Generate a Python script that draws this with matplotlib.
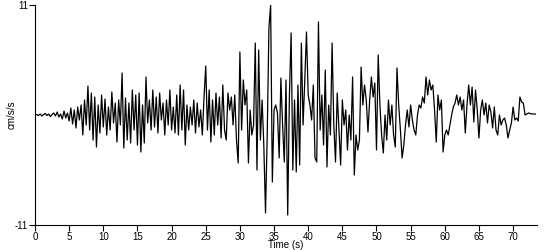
import numpy as np
import matplotlib

matplotlib.use("Agg")
import matplotlib.pyplot as plt

# acceleration record, one row per second (dt = 0.25 s)
dt = 0.25
accel = [
    0.0, 0.05, -0.05, 0.1,
    -0.1, 0.05, 0.15, -0.05,
    0.1, -0.15, 0.05, 0.2,
    -0.1, 0.3, -0.2, 0.1,
    -0.4, 0.4, -0.3, 0.2,
    -0.6, 0.7, -0.9, 0.5,
    -1.3, 0.8, -0.5, 1.0,
    -2.0, 1.5, -1.0, 2.9,
    -1.5, 2.2, -2.5, 1.8,
    -3.2, 1.0, -1.8, 2.0,
    -1.2, 1.6, -2.0, 0.8,
    -1.5, 2.3, -0.8, 1.2,
    -2.7, 1.5, -1.0, 4.2,
    -3.3, 1.7, -2.5, 1.2,
    -2.8, 2.5, -1.5, 2.0,
    -3.0, 2.2, -3.7, 1.0,
    -2.8, 3.8, -0.8, 1.5,
    -1.5, 2.5, -1.2, 1.8,
    -1.8, 2.2, -0.5, 1.2,
    -2.0, 1.5, -1.0, 2.5,
    -1.5, 0.8, -1.8, 2.0,
    -2.0, 3.0, -1.5, 2.5,
    -3.0, 1.0, -1.5, 0.8,
    -1.0, 1.5, -1.8, 1.2,
    -1.2, 0.5, -2.0, 1.8,
    4.9, -1.5, 2.5, -2.7,
    1.5, -2.0, 2.2, -1.0,
    1.8, -2.3, 3.0, -1.5,
    -2.5, 2.2, 0.5, 1.8,
    -1.0, 2.0, -2.5, -4.8,
    6.3, -1.5, 3.5, 1.0,
    2.5, -4.8, 0.5, -2.0,
    -1.0, 7.2, -5.5, 6.5,
    -2.5, 1.5, -3.0, -9.8,
    -2.0, 8.7, 11.0, -6.7,
    0.5, 1.0, 0.2, -4.3,
    3.7, -1.0, -4.7, 3.5,
    -10.0, 2.0, 8.2, -5.5,
    1.5, -5.7, 3.0, -5.0,
    7.2, -1.0, 3.5, 8.3,
    2.0, 1.0, -0.5, 3.0,
    -4.3, -4.7, 9.3, -1.5,
    2.0, -3.0, 4.5, -5.2,
    1.0, -2.0, 7.2, -1.0,
    -4.7, 2.2, -1.5, -5.0,
    1.5, -1.0, 0.5, -3.5,
    0.0, -2.5, 3.8, -6.0,
    -2.0, -3.5, -2.5, 4.8,
    1.0, 3.0, 1.5, -1.7,
    1.5, 3.8, 1.8, 3.2,
    -3.5, 6.0, 1.0, -2.0,
    -3.8, 0.0, -2.5, 1.5,
    -1.0, 1.0, -2.0, -3.2,
    4.7, 1.0, -1.5, -4.3,
    -3.0, -1.0, 0.5, -1.2,
    1.0, -0.5, -1.5, -2.0,
    0.0, 1.0, 0.7, 1.8,
    1.2, 3.8, 2.0, 3.5,
    2.5, 3.0, 0.5, -2.7,
    2.0, 0.5, 1.5, -3.7,
    -2.0, -1.5, -2.0, -1.0,
    0.0, 0.8, 1.2, 2.0,
    1.0, 1.8, 0.5, 1.5,
    -1.8, 1.0, 3.0, 1.0,
    2.8, -0.7, 2.5, 0.5,
    -2.3, 0.5, 1.5, 0.0,
    1.2, -0.8, 1.0, 0.3,
    -1.3, 0.8, -1.5, -2.0,
    0.0, -1.0, -0.5, -0.3,
    -1.0, -2.3, -1.5, -0.8,
    0.8, -0.5, -0.3, -0.6,
    1.8, 1.3, 1.2, 0.0,
    0.1, 0.2, 0.15, 0.1,
    0.1, 0.1,
]
time = np.arange(len(accel)) * dt

x_ticks = list(range(0, 75, 5))
y_ticks = [-11, 11]

plt.rcParams["font.family"] = ["Liberation Sans", "DejaVu Sans"]

fig = plt.figure(figsize=(5.5, 2.5), dpi=100)
ax = fig.add_axes([35 / 550, 25 / 250, 502 / 550, 220 / 250])
ax.plot(time, accel, color="black", linewidth=0.9)

ax.set_xlim(0, 73.5)
ax.set_ylim(-11, 11)
ax.set_xticks(x_ticks)
ax.set_yticks(y_ticks)
ax.set_yticklabels(["-11", "11"])
ax.tick_params(axis="both", labelsize=7, length=4, width=0.8, pad=1, color="black")
ax.spines["top"].set_visible(False)
ax.spines["right"].set_visible(False)
ax.set_xlabel("Time (s)", fontsize=7, va="center")
ax.set_ylabel("cm/s/s", fontsize=7, va="center")
ax.xaxis.set_label_coords(0.5, -0.093)
ax.yaxis.set_label_coords(-0.046, 0.5)

fig.savefig("out.png", dpi=100)
